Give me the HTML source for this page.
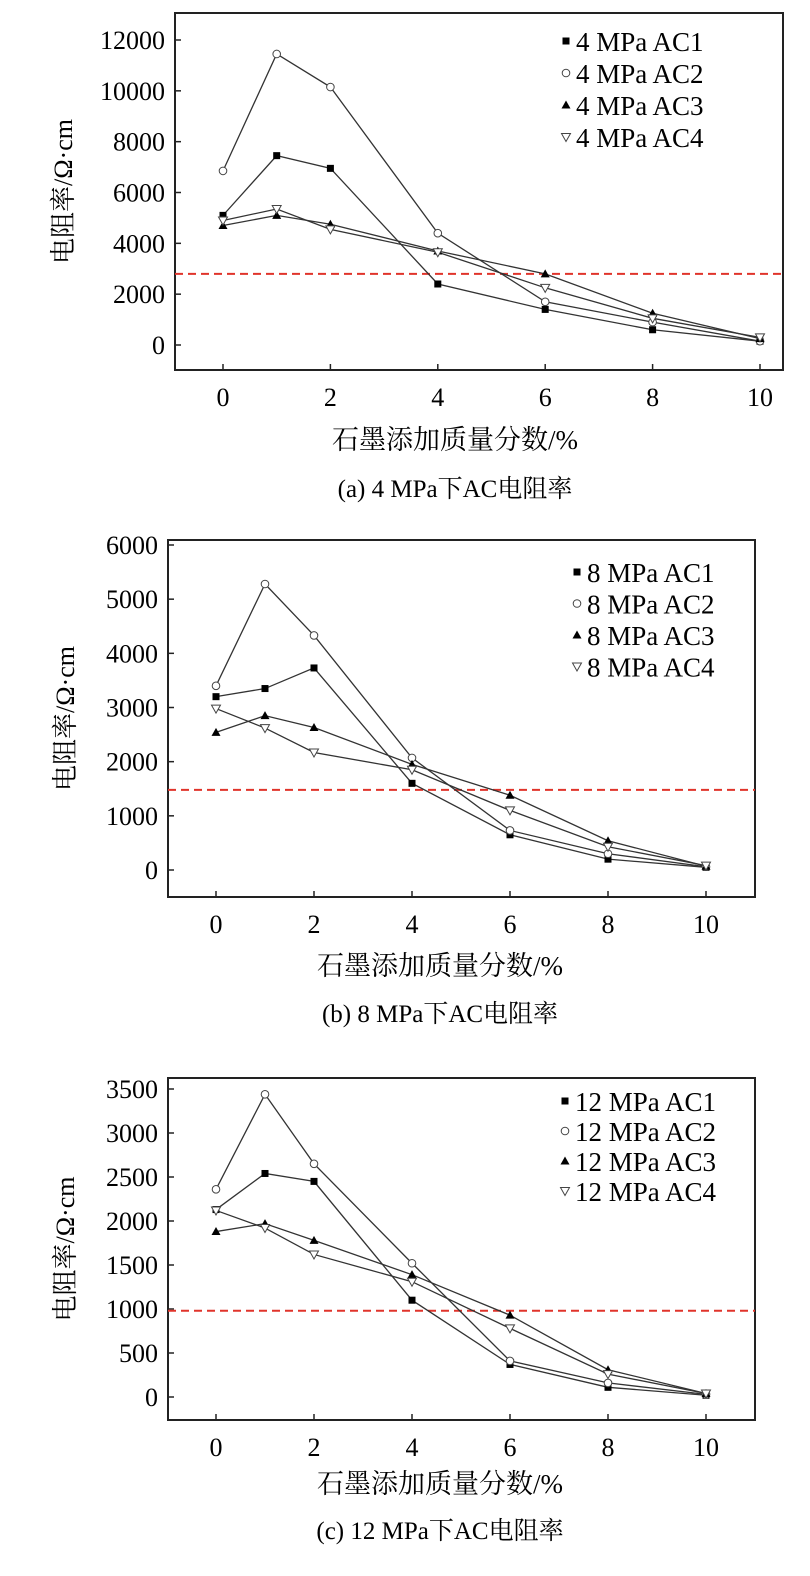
<!DOCTYPE html>
<html><head><meta charset="utf-8">
<style>
body{margin:0;background:#fff;}
svg{display:block;font-family:"Liberation Serif","Noto Serif CJK SC",serif;}
</style></head>
<body>
<svg id="svg" width="810" height="1576" viewBox="0 0 810 1576"></svg>
<script>
const xCats=[0,1,2,4,6,8,10];
const xTicks=[0,2,4,6,8,10];
const aAC1=[5100,7450,6950,2400,1400,600,150];
const aAC2=[6850,11450,10150,4400,1700,900,150];
const aAC3=[4700,5100,4750,3700,2800,1250,250];
const aAC4=[4900,5350,4550,3650,2250,1050,300];
const aTicks=[0,2000,4000,6000,8000,10000,12000];
const aRef=2800;
const bAC1=[3200,3350,3730,1600,650,200,50];
const bAC2=[3400,5280,4330,2070,730,300,60];
const bAC3=[2540,2850,2630,1950,1380,540,70];
const bAC4=[2980,2620,2170,1850,1100,430,80];
const bTicks=[0,1000,2000,3000,4000,5000,6000];
const bRef=1480;
const cAC1=[2130,2540,2450,1100,370,110,20];
const cAC2=[2360,3440,2650,1520,410,160,30];
const cAC3=[1880,1970,1780,1390,930,310,40];
const cAC4=[2120,1920,1620,1310,780,260,40];
const cTicks=[0,500,1000,1500,2000,2500,3000,3500];
const cRef=980;

const NS="http://www.w3.org/2000/svg";
const svg=document.getElementById('svg');
function el(t,a,p){const e=document.createElementNS(NS,t);for(const k in a)e.setAttribute(k,a[k]);(p||svg).appendChild(e);return e;}

function marker(g,kind,x,y){
  let m;
  if(kind===0)m=el('rect',{x:x-3.5,y:y-3.5,width:7,height:7,fill:'#000'},g);
  else if(kind===1)m=el('circle',{cx:x,cy:y,r:3.8,fill:'#fff',stroke:'#444','stroke-width':1},g);
  else if(kind===2)m=el('polygon',{points:`${x},${y-4.5} ${x+4.5},${y+3.5} ${x-4.5},${y+3.5}`,fill:'#000'},g);
  else m=el('polygon',{points:`${x-4.5},${y-3.5} ${x+4.5},${y-3.5} ${x},${y+4.5}`,fill:'#fff',stroke:'#444','stroke-width':1},g);
  return m;
}

function chart(o){
  const g=el('g',{});
  
  
  const X=v=>o.x0+(o.x10-o.x0)*v/10;
  const Y=v=>o.y0+(o.yTop-o.y0)*v/o.yTopVal;
  const box=el('rect',{x:o.bx,y:o.by,width:o.bw,height:o.bh,fill:'none',stroke:'#222','stroke-width':2},g);
  
  
  o.ticks.forEach(t=>{
    el('line',{x1:o.bx,x2:o.bx+6,y1:Y(t),y2:Y(t),stroke:'#222','stroke-width':1.5},g);
    const tx=el('text',{x:o.bx-10,y:Y(t)+9,'text-anchor':'end','font-size':26,fill:'#000'},g);
    tx.textContent=t;
    
    
  });
  xTicks.forEach(t=>{
    el('line',{x1:X(t),x2:X(t),y1:o.by+o.bh,y2:o.by+o.bh-6,stroke:'#222','stroke-width':1.5},g);
    const tx=el('text',{x:X(t),y:o.by+o.bh+36,'text-anchor':'middle','font-size':26,fill:'#000'},g);
    tx.textContent=t;
    
    
  });
  const rl=el('line',{x1:o.bx,x2:o.bx+o.bw,y1:Y(o.ref),y2:Y(o.ref),stroke:'#e0342b','stroke-width':2,'stroke-dasharray':'8,5'},g);
  
  
  o.series.forEach((s,k)=>{
    const pl=el('polyline',{points:s.map((v,i)=>X(xCats[i])+','+Y(v)).join(' '),fill:'none',stroke:'#333','stroke-width':1.3},g);
    
    
  });
  o.series.forEach((s,k)=>{
    s.forEach((v,i)=>{
      const m=marker(g,k,X(xCats[i]),Y(v));
      
      
    });
  });
  o.series.forEach((s,k)=>{
    const ly=o.legY+k*o.legDy;
    const m=marker(g,k,o.legX,ly);
    
    
    const tx=el('text',{x:o.legX+10,y:ly+10,'font-size':27,fill:'#000'},g);
    tx.textContent=o.p+' MPa AC'+(k+1);
    
    
  });
  const yt=el('text',{x:0,y:0,'font-size':26,fill:'#000','text-anchor':'middle',transform:`translate(${o.ytx},${o.by+o.bh/2}) rotate(-90)`},g);
  yt.textContent='电阻率/Ω·cm';
  
  
  const xt=el('text',{x:o.capX,y:o.xtY,'font-size':27,fill:'#000','text-anchor':'middle'},g);
  xt.textContent='石墨添加质量分数/%';
  
  
  const cp=el('text',{x:o.capX,y:o.capY,'font-size':25,fill:'#000','text-anchor':'middle'},g);
  cp.textContent=o.cap;
  
  
}

chart({name:'chart-4mpa',bx:175,by:13,bw:608,bh:357,x0:223,x10:760,y0:345,yTop:40,yTopVal:12000,ticks:aTicks,ref:aRef,
  series:[aAC1,aAC2,aAC3,aAC4],p:4,legX:566,legY:41,legDy:32,ytx:72,capX:455,xtY:449,capY:497,cap:'(a) 4 MPa下AC电阻率'});
chart({name:'chart-8mpa',bx:168,by:540,bw:587,bh:357,x0:216,x10:706,y0:870,yTop:545,yTopVal:6000,ticks:bTicks,ref:bRef,
  series:[bAC1,bAC2,bAC3,bAC4],p:8,legX:577,legY:572,legDy:31.5,ytx:74,capX:440,xtY:975,capY:1022,cap:'(b) 8 MPa下AC电阻率'});
chart({name:'chart-12mpa',bx:168,by:1078,bw:587,bh:342,x0:216,x10:706,y0:1397,yTop:1089,yTopVal:3500,ticks:cTicks,ref:cRef,
  series:[cAC1,cAC2,cAC3,cAC4],p:12,legX:565,legY:1101,legDy:30,ytx:74,capX:440,xtY:1493,capY:1539,cap:'(c) 12 MPa下AC电阻率'});
</script>
</body></html>
